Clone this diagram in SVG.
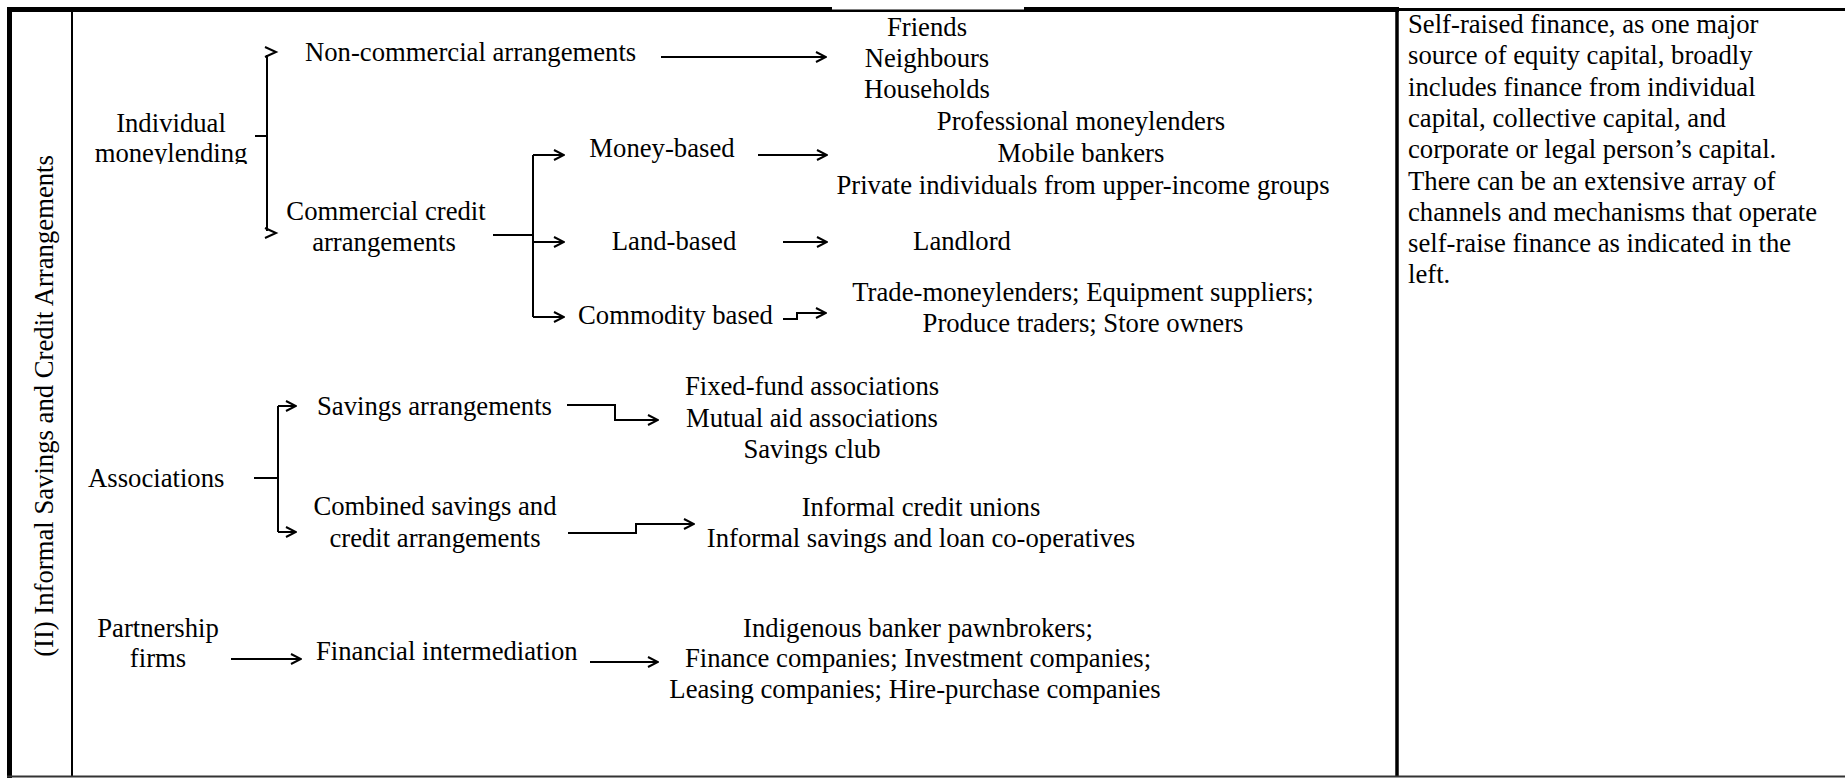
<svg xmlns="http://www.w3.org/2000/svg" width="1845" height="778" viewBox="0 0 1845 778" font-family="'Liberation Serif','Times New Roman',serif">
<style>
.t{font-family:"Liberation Serif","Times New Roman",serif;font-size:26.7px;fill:#000}
.m{text-anchor:middle}
.ln{stroke:#000;stroke-width:2;fill:none}
.ar{stroke:#000;stroke-width:2;fill:none;marker-end:url(#ah)}
.frame{stroke:#000;fill:none}
</style>
<defs>
<marker id="ah" viewBox="0 0 12 12" refX="11" refY="6" markerWidth="12" markerHeight="12" orient="auto" markerUnits="userSpaceOnUse">
<path d="M1,1 L11,6 L1,11" fill="none" stroke="#000" stroke-width="2"/>
</marker>
<clipPath id="clipML"><rect x="60" y="100" width="260" height="64"/></clipPath>
</defs>
<rect width="1845" height="778" fill="#fff"/>
<g id="frame">
<line class="frame" x1="7" y1="9.5" x2="1399" y2="9.5" stroke-width="5"/>
<line class="frame" x1="1399" y1="9.5" x2="1845" y2="9.5" stroke-width="3"/>
<rect x="832" y="5" width="192" height="4.5" fill="#fff"/>
<line class="frame" x1="9.5" y1="7" x2="9.5" y2="778" stroke-width="5"/>
<line class="frame" x1="72" y1="12" x2="72" y2="777" stroke-width="2"/>
<line class="frame" x1="1397" y1="12" x2="1397" y2="777" stroke-width="3.5"/>
<line x1="7" y1="776.5" x2="1845" y2="776.5" stroke="#333" stroke-width="2"/>
</g>
<g id="title">
<text class="t m" transform="translate(53,406) rotate(-90)">(II) Informal Savings and Credit Arrangements</text>
</g>
<g id="connectors">
<path class="ln" d="M267,55 V231 M255,136 H267"/>
<path class="ln" d="M265,47 L276,52 L265,57 M265,228 L276,233 L265,238"/>
<path class="ar" d="M661,57 H826"/>
<path class="ln" d="M493,235 H533 M533,155 V317"/>
<path class="ar" d="M533,155 H564"/>
<path class="ar" d="M533,242 H564"/>
<path class="ar" d="M533,317 H564"/>
<path class="ar" d="M758,155 H827"/>
<path class="ar" d="M783,242 H827"/>
<path class="ar" d="M783,319 H797 V313 H826"/>
<path class="ln" d="M254,478 H278 M278,406 V532"/>
<path class="ar" d="M278,406 H296"/>
<path class="ar" d="M278,532 H296"/>
<path class="ar" d="M567,405 H615 V420 H658"/>
<path class="ar" d="M568,533 H636 V524 H694"/>
<path class="ar" d="M231,659 H301"/>
<path class="ar" d="M590,662 H658"/>
</g>
<g id="individual-moneylending">
<text class="t m" x="171" y="132">Individual</text>
<text class="t m" x="171" y="162" clip-path="url(#clipML)">moneylending</text>
</g>
<g id="non-commercial">
<text class="t" x="305" y="61">Non-commercial arrangements</text>
</g>
<g id="non-commercial-sources">
<text class="t m" x="927" y="36">Friends</text>
<text class="t m" x="927" y="67">Neighbours</text>
<text class="t m" x="927" y="98">Households</text>
</g>
<g id="commercial-credit">
<text class="t m" x="386" y="220">Commercial credit</text>
<text class="t m" x="384" y="251">arrangements</text>
</g>
<g id="money-based">
<text class="t m" x="662" y="157">Money-based</text>
</g>
<g id="money-sources">
<text class="t m" x="1081" y="130">Professional moneylenders</text>
<text class="t m" x="1081" y="162">Mobile bankers</text>
<text class="t m" x="1083" y="194">Private individuals from upper-income groups</text>
</g>
<g id="land-based">
<text class="t m" x="674" y="250">Land-based</text>
</g>
<g id="land-sources">
<text class="t m" x="962" y="250">Landlord</text>
</g>
<g id="commodity-based">
<text class="t" x="578" y="324">Commodity based</text>
</g>
<g id="commodity-sources">
<text class="t m" x="1083" y="301">Trade-moneylenders; Equipment suppliers;</text>
<text class="t m" x="1083" y="332">Produce traders; Store owners</text>
</g>
<g id="associations">
<text class="t" x="88" y="487">Associations</text>
</g>
<g id="savings-arrangements">
<text class="t" x="317" y="415">Savings arrangements</text>
</g>
<g id="savings-sources">
<text class="t m" x="812" y="395">Fixed-fund associations</text>
<text class="t m" x="812" y="427">Mutual aid associations</text>
<text class="t m" x="812" y="458">Savings club</text>
</g>
<g id="combined-savings-credit">
<text class="t m" x="435" y="515">Combined savings and</text>
<text class="t m" x="435" y="547">credit arrangements</text>
</g>
<g id="combined-sources">
<text class="t m" x="921" y="516">Informal credit unions</text>
<text class="t m" x="921" y="547">Informal savings and loan co-operatives</text>
</g>
<g id="partnership-firms">
<text class="t m" x="158" y="637">Partnership</text>
<text class="t m" x="158" y="667">firms</text>
</g>
<g id="financial-intermediation">
<text class="t" x="316" y="660">Financial intermediation</text>
</g>
<g id="intermediation-sources">
<text class="t m" x="918" y="637">Indigenous banker pawnbrokers;</text>
<text class="t m" x="918" y="667">Finance companies; Investment companies;</text>
<text class="t m" x="915" y="698">Leasing companies; Hire-purchase companies</text>
</g>
<g id="description">
<text class="t" x="1408" y="33">Self-raised finance, as one major</text>
<text class="t" x="1408" y="64.3">source of equity capital, broadly</text>
<text class="t" x="1408" y="95.6">includes finance from individual</text>
<text class="t" x="1408" y="126.9">capital, collective capital, and</text>
<text class="t" x="1408" y="158.2">corporate or legal person’s capital.</text>
<text class="t" x="1408" y="189.5">There can be an extensive array of</text>
<text class="t" x="1408" y="220.8">channels and mechanisms that operate</text>
<text class="t" x="1408" y="252.1">self-raise finance as indicated in the</text>
<text class="t" x="1408" y="283.4">left.</text>
</g>
</svg>
